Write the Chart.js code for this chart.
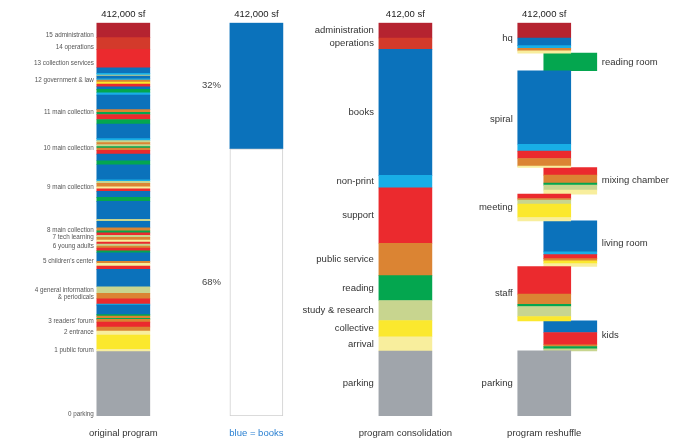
<!DOCTYPE html>
<html lang="en">
<head>
  <meta charset="UTF-8">
  <title>Program diagram</title>
  <script src="https://cdn.jsdelivr.net/npm/chart.js"></script>
  <style>
    html, body { margin: 0; padding: 0; background: #fff; }
    #chart-container { width: 674px; height: 440px; position: relative; }
  </style>
</head>
<body>
<div id="chart-container"><canvas id="chart"></canvas></div>
<script>
  // all areas in thousand sf, counted from the top of each column
  const TOTAL_SF = 412;

  const columnTitles   = ['412,000 sf', '412,000 sf', '412,00 sf', '412,000 sf'];
  const columnCaptions = ['original program', 'blue = books', 'program consolidation', 'program reshuffle'];
  const columnX        = [1, 1.92, 2.95, 4];
  const reshuffleOffset = 0.09;

  // floors of the original building and the level where each label sits
  const floorNames = ['15 administration', '14 operations', '13 collection services', '12 government & law',
    '11 main collection', '10 main collection', '9 main collection', '8 main collection', '7 tech learning',
    '6 young adults', "5 children's center", ['4 general information', '& periodicals'], "3 readers' forum",
    '2 entrance', '1 public forum', '0 parking'];
  const floorLevels = [13.6, 25.8, 42.5, 60, 94.3, 131.3, 172.1, 217.2, 225.2, 233.9, 250.4, 283.8, 313.2, 324.3, 343.2, 410.2];

  // original program, stripe by stripe from the top
  const originalProgram = [
    ['administration', 15.7], ['operations', 12.2], ['support', 19.3], ['books', 5.9], ['non-print', 1.8],
    ['study & research', 1.0], ['books', 2.8], ['non-print', 1.4], ['public service', 2.1], ['collective', 2.1],
    ['support', 2.8], ['books', 2.7], ['reading', 3.6], ['non-print', 2.4], ['books', 15.2],
    ['public service', 2.9], ['reading', 2.3], ['support', 5.2], ['reading', 4.7], ['books', 15.4],
    ['non-print', 2.1], ['study & research', 2.1], ['public service', 2.1], ['study & research', 2.1], ['reading', 1.4],
    ['public service', 2.4], ['support', 3.9], ['books', 7.0], ['reading', 4.2], ['books', 15.7],
    ['non-print', 1.7], ['study & research', 2.1], ['public service', 3.6], ['arrival', 2.1], ['support', 2.7],
    ['books', 6.3], ['reading', 4.2], ['books', 18.9], ['study & research', 2.1], ['books', 6.7],
    ['public service', 3.1], ['reading', 2.1], ['support', 2.7], ['study & research', 2.1], ['public service', 2.8],
    ['arrival', 2.1], ['support', 2.1], ['study & research', 2.1], ['public service', 2.1], ['support', 2.8],
    ['reading', 2.1], ['books', 9.0], ['public service', 2.1], ['arrival', 2.8], ['support', 3.5],
    ['books', 18.2], ['study & research', 6.9], ['public service', 5.7], ['support', 5.6], ['non-print', 1.0],
    ['books', 10.0], ['reading', 1.6], ['public service', 2.4], ['reading', 1.0], ['public service', 2.8],
    ['support', 5.2], ['public service', 4.2], ['arrival', 4.2], ['collective', 15.0], ['arrival', 2.3],
    ['parking', 67.6]
  ];

  // books vs everything else
  const shareNames = ['books', 'other'];
  const shareSizes = [132, 280];

  // consolidated program
  const consolidatedNames = ['administration', 'operations', 'books', 'non-print', 'support', 'public service',
    'reading', 'study & research', 'collective', 'arrival', 'parking'];
  const consolidatedSizes = [16, 12, 132, 13, 58, 34, 26, 21, 17, 15, 68];

  // reshuffled blocks, alternating left / right
  const reshuffleNames = ['hq', 'reading room', 'spiral', 'mixing chamber', 'meeting', 'living room', 'staff', 'kids', 'parking'];
  const reshuffleMix = [
    [['administration', 16], ['books', 8], ['non-print', 2.8], ['public service', 2.7], ['arrival', 2.3]],
    [['reading', 18.5]],
    [['books', 77], ['non-print', 7.3], ['support', 7.7], ['public service', 8], ['arrival', 1.4]],
    [['support', 8], ['public service', 8.4], ['reading', 2.1], ['study & research', 5.2], ['arrival', 4.2]],
    [['support', 4.6], ['public service', 1.7], ['study & research', 4.2], ['collective', 14], ['arrival', 3.5]],
    [['books', 32.5], ['non-print', 2.8], ['support', 4.2], ['public service', 2.4], ['collective', 2.8], ['arrival', 3.1]],
    [['support', 29], ['public service', 10.5], ['reading', 2.4], ['study & research', 10.5], ['collective', 4.5]],
    [['books', 12.2], ['support', 12.9], ['public service', 1.8], ['reading', 2.4], ['study & research', 2.1]],
    [['parking', 68]]
  ];

  const palette = {
    'administration':   '#b52330',
    'operations':       '#d33a2b',
    'books':            '#0b72bb',
    'non-print':        '#18aee6',
    'support':          '#eb2a2e',
    'public service':   '#db8433',
    'reading':          '#04a64f',
    'study & research': '#c8d58f',
    'collective':       '#fbe82e',
    'arrival':          '#f8ee9d',
    'parking':          '#a0a5ab',
    'other':            '#ffffff'
  };

  const FONT = "'Liberation Sans', Arial, Helvetica, sans-serif";

  // turn [name, size] lists into floating segments
  function segments(list, x, start) {
    let top = start || 0;
    return list.map(([cat, size]) => {
      const seg = { x: x, y: [top, top + size], cat: cat };
      top += size;
      return seg;
    });
  }

  const col1 = segments(originalProgram, columnX[0]);
  const col2 = segments(shareNames.map((n, i) => [n, shareSizes[i]]), columnX[1]);
  const col3 = segments(consolidatedNames.map((n, i) => [n, consolidatedSizes[i]]), columnX[2]);

  const leftBlocks = [], rightBlocks = [];
  const blockInfo = [];
  let level = 0;
  reshuffleMix.forEach((mix, i) => {
    const right = i % 2 === 1;
    const x = right ? columnX[3] + reshuffleOffset : columnX[3] - reshuffleOffset;
    const segs = segments(mix, x, level);
    const size = mix.reduce((s, m) => s + m[1], 0);
    blockInfo.push({ name: reshuffleNames[i], right: right, mid: level + size / 2 });
    (right ? rightBlocks : leftBlocks).push(...segs);
    level += size;
  });

  const barStyle = {
    backgroundColor: c => palette[c.raw.cat],
    borderColor: '#cfcfcf',
    borderWidth: c => (c.raw.cat === 'other' ? 1 : 0),
    borderSkipped: false,
    grouped: false,
    barPercentage: 1,
    categoryPercentage: 1,
    maxBarThickness: 53
  };

  const labelPlugin = {
    id: 'programLabels',
    afterDatasetsDraw(chart) {
      const { ctx, chartArea } = chart;
      const ys = chart.scales.y;
      const edge = (dsIndex) => {
        const el = chart.getDatasetMeta(dsIndex).data[0];
        return { left: el.x - el.width / 2, right: el.x + el.width / 2, center: el.x };
      };
      ctx.save();
      ctx.textBaseline = 'middle';

      // titles and captions
      const centers = [edge(0).center, edge(1).center, edge(2).center, edge(3).center];
      ctx.textAlign = 'center';
      ctx.font = '9.5px ' + FONT;
      columnTitles.forEach((t, i) => {
        ctx.fillStyle = '#222';
        ctx.fillText(t, centers[i], chartArea.top - 8);
      });
      columnCaptions.forEach((t, i) => {
        ctx.fillStyle = i === 1 ? '#2a80d2' : '#333';
        ctx.fillText(t, centers[i], chartArea.bottom + 17);
      });

      // floor names of the original building
      ctx.textAlign = 'right';
      ctx.fillStyle = '#555';
      ctx.font = '6.3px ' + FONT;
      const e0 = edge(0);
      floorNames.forEach((name, i) => {
        const y = ys.getPixelForValue(floorLevels[i]);
        const lines = Array.isArray(name) ? name : [name];
        lines.forEach((ln, j) => {
          ctx.fillText(ln, e0.left - 3, y + (j - (lines.length - 1) / 2) * 7.5);
        });
      });

      // percentages
      ctx.font = '9.5px ' + FONT;
      ctx.fillStyle = '#444';
      const e1 = edge(1);
      col2.forEach(s => {
        const pct = Math.round((s.y[1] - s.y[0]) / TOTAL_SF * 100) + '%';
        ctx.fillText(pct, e1.left - 9, ys.getPixelForValue((s.y[0] + s.y[1]) / 2));
      });

      // consolidated names
      ctx.fillStyle = '#333';
      const e2 = edge(2);
      col3.forEach(s => {
        ctx.fillText(s.cat, e2.left - 5, ys.getPixelForValue((s.y[0] + s.y[1]) / 2));
      });

      // reshuffle block names
      const eL = edge(3), eR = edge(4);
      blockInfo.forEach(b => {
        const y = ys.getPixelForValue(b.mid);
        if (b.right) {
          ctx.textAlign = 'left';
          ctx.fillText(b.name, eR.right + 5, y);
        } else {
          ctx.textAlign = 'right';
          ctx.fillText(b.name, eL.left - 5, y);
        }
      });
      ctx.restore();
    }
  };

  new Chart(document.getElementById('chart'), {
    type: 'bar',
    data: {
      datasets: [
        { label: 'original program', data: col1, ...barStyle },
        { label: 'blue = books', data: col2, ...barStyle },
        { label: 'program consolidation', data: col3, ...barStyle },
        { label: 'program reshuffle (left)', data: leftBlocks, ...barStyle },
        { label: 'program reshuffle (right)', data: rightBlocks, xAxisID: 'xR', ...barStyle }
      ]
    },
    options: {
      responsive: true,
      maintainAspectRatio: false,
      animation: false,
      events: [],
      layout: { padding: { left: 51, right: 44.4, top: 22.7, bottom: 24 } },
      plugins: { legend: { display: false }, tooltip: { enabled: false } },
      scales: {
        x:  { type: 'linear', min: 0.5, max: 4.5, offset: false, display: false },
        xR: { type: 'linear', min: 0.5, max: 4.5, offset: false, display: false },
        y:  { type: 'linear', min: 0, max: TOTAL_SF, reverse: true, display: false }
      }
    },
    plugins: [labelPlugin]
  });
</script>
</body>
</html>
